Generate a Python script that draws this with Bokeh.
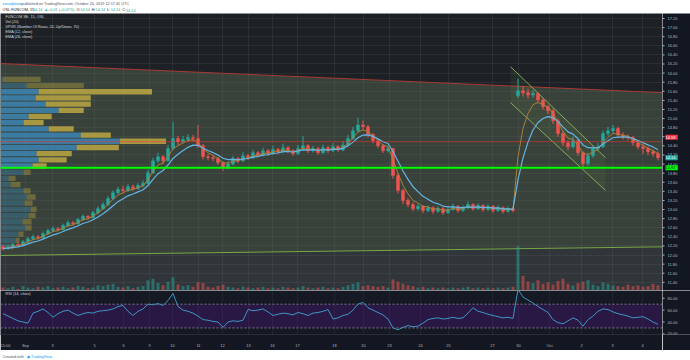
import pandas as pd
from bokeh.plotting import figure
from bokeh.layouts import column, row
from bokeh.models import (Range1d, FixedTicker, Label, Span, BoxAnnotation, ColumnDataSource,
                          CustomJSTickFormatter)
from bokeh.embed import file_html
from bokeh.resources import INLINE

# ---------------- data ----------------
opens = [12.18, 12.14, 12.18, 12.23, 12.21, 12.29, 12.36, 12.40, 12.38, 12.47,
         12.54, 12.58, 12.56, 12.65, 12.71, 12.69, 12.78, 12.85, 12.82, 12.93,
         13.02, 13.11, 13.24, 13.37, 13.44, 13.42, 13.50, 13.46, 13.53, 13.57,
         13.81, 14.07, 14.16, 14.07, 14.34, 14.56, 14.49, 14.54, 14.58, 14.56,
         14.40, 14.16, 14.14, 14.12, 14.03, 13.92, 14.00, 14.12, 14.07, 14.18,
         14.14, 14.25, 14.20, 14.29, 14.23, 14.32, 14.27, 14.36, 14.29, 14.23,
         14.34, 14.40, 14.29, 14.34, 14.25, 14.36, 14.29, 14.38, 14.31, 14.42,
         14.56, 14.73, 14.86, 14.82, 14.65, 14.51, 14.40, 14.29, 14.34, 13.75,
         13.42, 13.20, 13.11, 13.02, 13.07, 12.98, 13.04, 12.96, 13.02, 12.93,
         13.00, 13.07, 12.98, 13.04, 13.11, 13.02, 13.09, 13.00, 13.07, 12.98,
         13.04, 12.96, 13.02, 15.50, 15.61, 15.57, 15.52, 15.55, 15.41, 15.26,
         15.17, 14.95, 14.67, 14.47, 14.38, 14.51, 14.25, 14.01, 14.18, 14.34,
         14.38, 14.67, 14.73, 14.78, 14.64, 14.60, 14.58, 14.47, 14.38, 14.34,
         14.27, 14.23]
closes = [12.14, 12.18, 12.23, 12.21, 12.29, 12.36, 12.40, 12.38, 12.47, 12.54,
          12.58, 12.56, 12.65, 12.71, 12.69, 12.78, 12.85, 12.82, 12.93, 13.02,
          13.11, 13.24, 13.37, 13.44, 13.42, 13.50, 13.46, 13.53, 13.57, 13.81,
          14.07, 14.16, 14.07, 14.34, 14.56, 14.49, 14.54, 14.58, 14.56, 14.40,
          14.16, 14.14, 14.12, 14.03, 13.92, 14.00, 14.12, 14.07, 14.18, 14.14,
          14.25, 14.20, 14.29, 14.23, 14.32, 14.27, 14.36, 14.29, 14.23, 14.34,
          14.40, 14.29, 14.34, 14.25, 14.36, 14.29, 14.38, 14.31, 14.42, 14.56,
          14.73, 14.86, 14.82, 14.65, 14.51, 14.40, 14.29, 14.34, 13.75, 13.42,
          13.20, 13.11, 13.02, 13.07, 12.98, 13.04, 12.96, 13.02, 12.93, 13.00,
          13.07, 12.98, 13.04, 13.11, 13.02, 13.09, 13.00, 13.07, 12.98, 13.04,
          12.96, 13.02, 12.98, 15.61, 15.57, 15.52, 15.55, 15.41, 15.26, 15.17,
          14.95, 14.67, 14.47, 14.38, 14.51, 14.25, 14.01, 14.18, 14.34, 14.38,
          14.67, 14.73, 14.78, 14.64, 14.60, 14.58, 14.47, 14.38, 14.34, 14.27,
          14.23, 14.14]
highs = [12.22, 12.22, 12.27, 12.27, 12.33, 12.40, 12.45, 12.44, 12.52, 12.58,
         12.63, 12.62, 12.69, 12.76, 12.75, 12.82, 12.90, 12.88, 12.97, 13.07,
         13.16, 13.30, 13.42, 13.50, 13.52, 13.56, 13.55, 13.58, 13.64, 13.88,
         14.14, 14.25, 14.20, 14.42, 14.93, 14.62, 14.62, 14.66, 14.64, 14.86,
         14.44, 14.22, 14.20, 14.16, 14.06, 14.06, 14.18, 14.16, 14.26, 14.22,
         14.32, 14.29, 14.36, 14.33, 14.40, 14.36, 14.45, 14.40, 14.33, 14.42,
         14.62, 14.44, 14.40, 14.38, 14.43, 14.40, 14.46, 14.42, 14.50, 14.64,
         14.82, 15.02, 14.96, 14.86, 14.68, 14.55, 14.44, 14.40, 14.36, 13.80,
         13.46, 13.25, 13.16, 13.12, 13.10, 13.09, 13.07, 13.07, 13.05, 13.05,
         13.13, 13.10, 13.09, 13.18, 13.14, 13.14, 13.12, 13.12, 13.10, 13.09,
         13.07, 13.07, 13.05, 15.88, 15.72, 15.66, 15.62, 15.58, 15.45, 15.30,
         15.22, 15.00, 14.72, 14.52, 14.60, 14.55, 14.28, 14.24, 14.40, 14.46,
         14.74, 14.82, 14.86, 14.82, 14.70, 14.66, 14.62, 14.52, 14.44, 14.38,
         14.32, 14.28]
lows = [12.10, 12.12, 12.15, 12.17, 12.19, 12.26, 12.33, 12.34, 12.36, 12.44,
        12.51, 12.52, 12.54, 12.62, 12.65, 12.67, 12.75, 12.78, 12.80, 12.90,
        13.00, 13.08, 13.21, 13.34, 13.36, 13.39, 13.41, 13.43, 13.49, 13.55,
        13.78, 14.02, 14.00, 14.05, 14.30, 14.42, 14.45, 14.49, 14.50, 14.35,
        14.10, 14.08, 14.06, 13.98, 13.85, 13.88, 13.97, 14.02, 14.04, 14.09,
        14.11, 14.15, 14.17, 14.18, 14.20, 14.22, 14.24, 14.24, 14.18, 14.20,
        14.30, 14.24, 14.25, 14.20, 14.22, 14.24, 14.26, 14.26, 14.28, 14.39,
        14.53, 14.70, 14.75, 14.58, 14.45, 14.35, 14.24, 14.25, 13.68, 13.35,
        13.12, 13.05, 12.96, 12.98, 12.92, 12.94, 12.90, 12.93, 12.88, 12.90,
        12.97, 12.93, 12.95, 13.01, 12.97, 12.99, 12.95, 12.97, 12.93, 12.95,
        12.91, 12.93, 12.94, 15.45, 15.48, 15.44, 15.46, 15.34, 15.20, 15.10,
        14.88, 14.60, 14.40, 14.30, 14.34, 14.18, 13.92, 13.96, 14.14, 14.30,
        14.35, 14.62, 14.68, 14.58, 14.54, 14.52, 14.40, 14.32, 14.22, 14.20,
        14.16, 14.08]
volumes = [4, 3, 5, 2, 6, 4, 3, 5, 4, 6,
           3, 4, 5, 3, 4, 6, 5, 3, 4, 7,
           6, 8, 9, 5, 4, 6, 3, 5, 6, 14,
           16, 10, 7, 12, 18, 8, 6, 7, 5, 11,
           10, 5, 4, 6, 8, 5, 4, 3, 5, 4,
           3, 4, 5, 3, 4, 3, 5, 4, 3, 4,
           6, 4, 3, 4, 5, 3, 4, 3, 5, 7,
           9, 11, 6, 7, 6, 5, 6, 4, 15, 12,
           9, 7, 6, 4, 5, 3, 4, 3, 4, 3,
           4, 3, 4, 5, 3, 4, 3, 4, 3, 4,
           3, 4, 5, 60, 20, 12, 10, 14, 9, 11,
           8, 13, 16, 9, 7, 10, 12, 14, 8, 6,
           11, 9, 7, 6, 5, 8, 6, 7, 5, 6,
           9, 7]
rsi_values = [54, 50, 46, 42, 40, 38, 55, 58, 62, 56,
              48, 54, 58, 60, 55, 51, 54, 56, 55, 58,
              59, 60, 62, 66, 68, 58, 51, 58, 62, 70,
              69, 71, 68, 76, 88, 66, 60, 58, 55, 50,
              44, 43, 41, 40, 31, 40, 42, 41, 43, 61,
              59, 60, 62, 57, 51, 53, 55, 54, 52, 56,
              54, 51, 55, 56, 58, 61, 45, 47, 51, 53,
              60, 70, 73, 64, 60, 56, 52, 45, 30, 27,
              31, 34, 32, 33, 38, 44, 46, 47, 45, 46,
              48, 46, 47, 55, 64, 58, 56, 53, 51, 49,
              47, 48, 46, 95, 82, 77, 72, 66, 61, 56,
              44, 39, 37, 42, 47, 43, 33, 44, 50, 58,
              62, 61, 57, 54, 52, 50, 47, 48, 49, 45,
              40, 36]

day_labels = ["15:00", "Sep", "3", "5", "6", "9", "10", "11", "12", "13", "16", "17",
              "18", "20", "23", "24", "25", "27", "30", "Oct", "2", "3", "4"]
day_label_bars = [0.5, 4.5, 9.9, 18.3, 24.1, 29.3, 33.9, 39.1, 43.9, 49.1, 53.9, 58.9,
                  66.3, 72.1, 77.3, 83.5, 89.1, 97.9, 103.1, 109.3, 115.7, 121.9, 127.9]
price_ticks = [11.4, 11.6, 11.8, 12.0, 12.2, 12.4, 12.6, 12.8, 13.0, 13.2, 13.4, 13.6,
               13.8, 14.0, 14.2, 14.4, 14.6, 14.8, 15.0, 15.2, 15.4, 15.6, 15.8, 16.0,
               16.2, 16.4, 16.6, 16.8, 17.0, 17.2]
rsi_ticks = [20, 40, 60, 80]

# volume profile (visible range), rows from the top price down
vp_up = [2, 26, 38, 35, 45, 58, 28, 23, 48, 80, 119, 76, 36, 38, 32, 23, 8, 10, 23, 26,
         24, 30, 28, 22, 25, 18, 15, 10]
vp_down = [38, 57, 113, 55, 45, 25, 23, 20, 25, 30, 46, 42, 35, 28, 14, 7, 7, 10, 7, 9,
           8, 6, 7, 9, 6, 5, 4, 3]
vp_top, vp_bottom = 15.92, 12.11

# drawings
wedge_x = [-0.5, 131.9]
wedge_top = [16.21, 15.57]
wedge_bottom = [11.99, 12.18]
channel_x = [101.5, 120.5]
channel_top = [16.14, 14.14]
channel_bottom = [15.35, 13.42]
support_level = 13.92
last_price = 14.14
marker_price = 14.59
EMA_FAST_SPAN, EMA_SLOW_SPAN = 3.5, 7

assert len(opens) == len(closes) == len(highs) == len(lows) == len(volumes) == len(rsi_values)

# ---------------- layout constants ----------------
W, AXW = 690, 28
FW = W - AXW
HEAD_H, MAIN_H, RSI_FH, AX_H, FOOT_H = 13, 277, 51, 9, 10
FONT = "Liberation Sans"
SMALL = "4px"
TXT = "#b2b5be"
AX_BG = "#131722"
UP, DN = "#26a69a", "#ef5350"

n = len(closes)
bars = list(range(n))
XR = Range1d(-0.5, 131.9)
Y_LO, Y_HI = 11.22, 17.31


def fig_base(w, h, **kw):
    return figure(width=w, height=h, output_backend="svg", toolbar_location=None,
                  min_border_left=0, min_border_top=0, min_border_bottom=0, min_border_right=0,
                  outline_line_color=None, **kw)


def seq_labels(fig, x, y, parts, size="3.8px", cw=1.9):
    for text, color in parts:
        fig.add_layout(Label(x=x, y=y, text=text, text_color=color, text_font_size=size,
                             text_font=FONT, text_baseline="middle"))
        x += len(text) * cw


def price_scale(yr, ticks, fmt, h, bottom_border=0):
    """Right-hand price-scale column: tick marks and labels drawn on the shared y scale."""
    f = fig_base(AXW, h, x_range=Range1d(0, AXW), y_range=yr,
                 x_axis_location=None, y_axis_location=None,
                 background_fill_color=AX_BG, border_fill_color=AX_BG)
    f.min_border_bottom = bottom_border
    f.grid.visible = False
    f.segment(x0=[0] * len(ticks), x1=[2] * len(ticks), y0=ticks, y1=ticks,
              line_color=TXT, line_width=1)
    f.text(x=[5] * len(ticks), y=ticks, text=[fmt % t for t in ticks],
           text_font_size=SMALL, text_color=TXT, text_baseline="middle",
           text_font={"value": FONT})
    return f


# ---------------- header ----------------
header = fig_base(W, HEAD_H, x_range=Range1d(0, W), y_range=Range1d(0, HEAD_H),
                  x_axis_location=None, y_axis_location=None,
                  background_fill_color="white", border_fill_color="white")
header.grid.visible = False
seq_labels(header, 2, 9.5, [("zanadjteam", "#2196f3"),
                            (" published on TradingView.com, October 26, 2019 12:17:41 UTC", "#50535e")])
seq_labels(header, 2, 3.4, [("OSL:FUNCOM, 15  ", "#131722"), ("14.14 ", "#26a69a"),
                            ("▲ ", "#26a69a"), ("+0.01 (+0.07%) ", "#26a69a"),
                            ("O:", "#131722"), ("14.14 ", "#26a69a"), ("H:", "#131722"),
                            ("14.14 ", "#26a69a"), ("L:", "#131722"), ("14.14 ", "#26a69a"),
                            ("C:", "#131722"), ("14.14", "#26a69a")])

# ---------------- main pane ----------------
YR = Range1d(Y_LO, Y_HI)
main = fig_base(FW, MAIN_H, x_range=XR, y_range=YR,
                x_axis_location=None, y_axis_location=None,
                background_fill_color="#1d2126", border_fill_color=AX_BG)
main.xgrid.ticker = FixedTicker(ticks=day_label_bars)
main.ygrid.ticker = FixedTicker(ticks=price_ticks)
main.grid.grid_line_color = "#ffffff"
main.grid.grid_line_alpha = 0.06

# wedge drawing
wx0, wx1 = wedge_x
main.patch(x=[wx0, wx1, wx1, wx0], y=[wedge_top[0], wedge_top[1], wedge_bottom[1], wedge_bottom[0]],
           fill_color="#6e7d62", fill_alpha=0.35, line_color=None)
main.patch(x=[wx0, wx1, wx1, wx0], y=[wedge_bottom[0], wedge_bottom[1], Y_LO, Y_LO],
           fill_color="#8a8f96", fill_alpha=0.18, line_color=None)
main.line(wedge_x, wedge_top, line_color="#a83a34", line_width=1)
main.line(wedge_x, wedge_bottom, line_color="#8bc34a", line_width=1, line_alpha=0.8)

# volume profile
nrows = len(vp_up)
row_h = (vp_top - vp_bottom) / nrows
tops = [vp_top - j * row_h for j in range(nrows)]
bots = [t - row_h * 0.86 for t in tops]
tot = [u + d for u, d in zip(vp_up, vp_down)]
k = 0.25 * (XR.end - XR.start) / max(tot)
up_r = [XR.start + u * k for u in vp_up]
dn_r = [r + d * k for r, d in zip(up_r, vp_down)]
poc = tot.index(max(tot))
lo = hi = poc
acc = tot[poc]
while acc < 0.7 * sum(tot):
    a = tot[lo - 1] if lo > 0 else -1
    b = tot[hi + 1] if hi < nrows - 1 else -1
    if a >= b:
        lo -= 1
        acc += a
    else:
        hi += 1
        acc += b
alph = [0.75 if lo <= j <= hi else 0.35 for j in range(nrows)]
vps = ColumnDataSource(dict(l=[XR.start] * nrows, m=up_r, r=dn_r, t=tops, b=bots, a=alph))
main.quad(left="l", right="m", top="t", bottom="b", fill_color="#3d8fc4", fill_alpha="a",
          line_color=None, source=vps)
main.quad(left="m", right="r", top="t", bottom="b", fill_color="#cdb545", fill_alpha="a",
          line_color=None, source=vps)
poc_price = tops[poc] - row_h / 2
main.add_layout(Span(location=poc_price, dimension="width", line_color="#e53935",
                     line_alpha=0.6, line_width=1))

# descending channel drawing
main.patch(x=[channel_x[0], channel_x[1], channel_x[1], channel_x[0]],
           y=[channel_top[0], channel_top[1], channel_bottom[1], channel_bottom[0]],
           fill_color="#8bc34a", fill_alpha=0.08, line_color=None)
main.line(channel_x, channel_top, line_color="#9ccc65", line_width=1, line_alpha=0.75)
main.line(channel_x, channel_bottom, line_color="#9ccc65", line_width=1, line_alpha=0.75)

# candles + volume
colors = [UP if c >= o else DN for o, c in zip(opens, closes)]
src = ColumnDataSource(dict(x=bars, o=opens, c=closes, h=highs, l=lows,
                            top=[max(o, c) for o, c in zip(opens, closes)],
                            bot=[min(o, c) for o, c in zip(opens, closes)],
                            color=colors, vol=volumes))
main.extra_y_ranges = {"vol": Range1d(0, max(volumes) / 0.16)}
main.vbar(x="x", width=0.6, top="vol", bottom=0, y_range_name="vol", fill_color="color",
          fill_alpha=0.5, line_color=None, source=src)
main.segment(x0="x", y0="h", x1="x", y1="l", line_color="color", line_width=1, source=src)
main.vbar(x="x", width=0.6, top="top", bottom="bot", fill_color="color", line_color="color",
          line_width=0.5, source=src)

ema_fast = pd.Series(closes).ewm(span=EMA_FAST_SPAN, adjust=False).mean()
ema_slow = pd.Series(closes).ewm(span=EMA_SLOW_SPAN, adjust=False).mean()
main.line(bars, list(ema_fast), line_color="#a8803c", line_width=1)
main.line(bars, list(ema_slow), line_color="#64b5e6", line_width=1.2)

main.add_layout(Span(location=support_level, dimension="width", line_color="#00ff00", line_width=2))

# pane legend
legend_lines = ["FUNCOM SE, 15, OSL", "Vol (20)", "VPVR (Number Of Rows, 24, Up/Down, 70)",
                "EMA (12, close)", "EMA (26, close)"]
px2y = (Y_HI - Y_LO) / MAIN_H
for i, t in enumerate(legend_lines):
    main.add_layout(Label(x=0.5, y=Y_HI - (3.5 + 5 * i) * px2y, text=t,
                          text_color="#d1d4dc", text_font_size="3.8px", text_font=FONT,
                          text_baseline="middle"))

# price-scale column with badges
main_ax = price_scale(YR, price_ticks, "%.2f", MAIN_H)
for price, txt, bg, fg in [(marker_price, "14.59", "#f23645", "white"),
                           (last_price, "14.14", "#26a69a", "white"),
                           (support_level, "13.92", "#00ff00", "#131722")]:
    main_ax.add_layout(Label(x=3, y=price, text=" " + txt + " ", text_baseline="middle",
                             text_font_size=SMALL, text_font=FONT, text_color=fg,
                             background_fill_color=bg))

# ---------------- RSI pane ----------------
RYR = Range1d(19, 93)
rsi = fig_base(FW, RSI_FH + AX_H, x_range=XR, y_range=RYR, y_axis_location=None,
               background_fill_color="#151923", border_fill_color=AX_BG)
rsi.min_border_bottom = AX_H
rsi.xgrid.ticker = FixedTicker(ticks=day_label_bars)
rsi.ygrid.visible = False
rsi.grid.grid_line_color = "#ffffff"
rsi.grid.grid_line_alpha = 0.05
rsi.add_layout(BoxAnnotation(bottom=30, top=70, fill_color="#9915ff", fill_alpha=0.15,
                             line_color=None, level="underlay"))
for lvl in (70, 30):
    rsi.add_layout(Span(location=lvl, dimension="width", line_color="#787b86",
                        line_dash="2 2", line_width=1))
rsi.line(bars, rsi_values, line_color="#3f95c6", line_width=1)
rsi.add_layout(Label(x=0.5, y=93 - 4 * (74 / RSI_FH), text="RSI (14, close)",
                     text_color="#d1d4dc", text_font_size="3.8px", text_font=FONT,
                     text_baseline="middle"))

xa = rsi.xaxis[0]
xa.ticker = FixedTicker(ticks=day_label_bars)
xa.formatter = CustomJSTickFormatter(args=dict(pos=day_label_bars, labs=day_labels), code="""
const i = pos.findIndex(p => Math.abs(p - tick) < 1e-6);
return i >= 0 ? labs[i] : "";
""")
xa.major_label_text_font_size = SMALL
xa.major_label_text_color = TXT
xa.major_label_text_font = FONT
xa.axis_line_color = "#2a2e39"
xa.major_tick_line_color = None
xa.minor_tick_line_color = None
xa.major_label_standoff = 2

rsi_ax = price_scale(RYR, rsi_ticks, "%.2f", RSI_FH + AX_H, bottom_border=AX_H)

# ---------------- footer ----------------
footer = fig_base(W, FOOT_H, x_range=Range1d(0, W), y_range=Range1d(0, FOOT_H),
                  x_axis_location=None, y_axis_location=None,
                  background_fill_color="white", border_fill_color="white")
footer.grid.visible = False
seq_labels(footer, 2, 6, [("Created with ", "#50535e"), ("◆ ", "#2196f3"),
                          ("TradingView", "#2196f3")])

page = column(header, row(main, main_ax, spacing=0), row(rsi, rsi_ax, spacing=0), footer,
              spacing=0)
open("out.html", "w").write(file_html(page, INLINE))
